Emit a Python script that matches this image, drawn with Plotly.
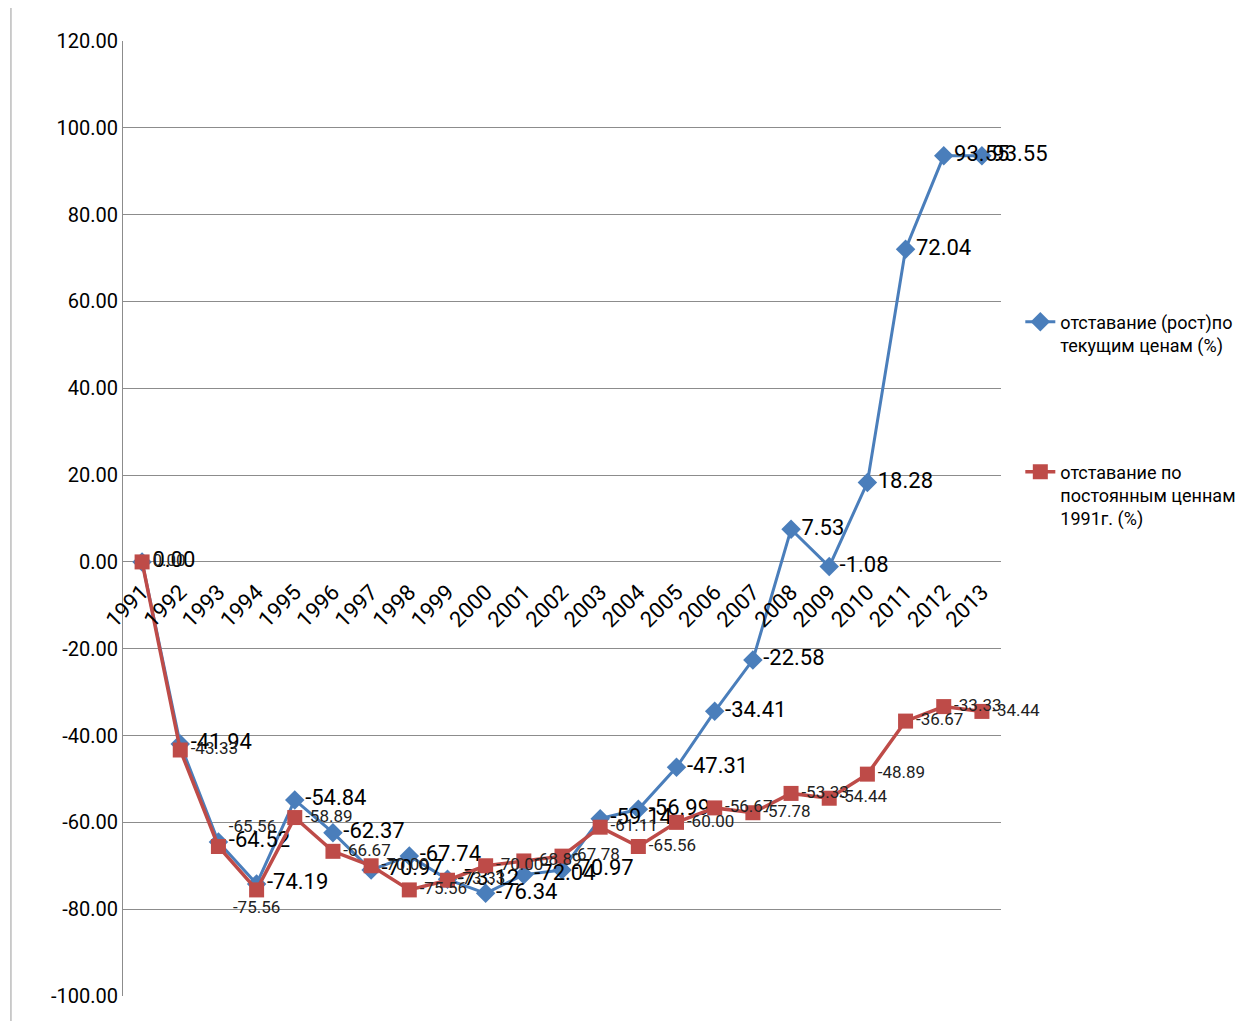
import plotly.graph_objects as go

years = ["1991", "1992", "1993", "1994", "1995", "1996", "1997", "1998", "1999", "2000",
         "2001", "2002", "2003", "2004", "2005", "2006", "2007", "2008", "2009", "2010",
         "2011", "2012", "2013"]

current_prices = [0.00, -41.94, -64.52, -74.19, -54.84, -62.37, -70.97, -67.74, -73.12, -76.34,
                  -72.04, -70.97, -59.14, -56.99, -47.31, -34.41, -22.58, 7.53, -1.08, 18.28,
                  72.04, 93.55, 93.55]

constant_prices = [0.00, -43.33, -65.56, -75.56, -58.89, -66.67, -70.00, -75.56, -73.33, -70.00,
                   -68.89, -67.78, -61.11, -65.56, -60.00, -56.67, -57.78, -53.33, -54.44, -48.89,
                   -36.67, -33.33, -34.44]

y_ticks = [-100, -80, -60, -40, -20, 0, 20, 40, 60, 80, 100, 120]
y_tick_labels = ["-100.00", "-80.00", "-60.00", "-40.00", "-20.00", "0.00",
                 "20.00", "40.00", "60.00", "80.00", "100.00", "120.00"]

name_current = "отставание (рост)по<br>текущим ценам (%)"
name_constant = "отставание по<br>постоянным ценнам<br>1991г. (%)"

blue = "#4A7EBB"
red = "#BE4B48"
fam = "Roboto, Liberation Sans, sans-serif"

def f(size, color="black"):
    return dict(family=fam, size=size, color=color)

red_pos = ["middle right"] * len(years)
red_pos[2] = "top right"
red_pos[3] = "bottom center"

fig = go.Figure()
fig.add_trace(go.Scatter(
    x=years, y=current_prices, name=name_current, legendgroup="a",
    mode="lines+markers+text",
    line=dict(color=blue, width=3),
    marker=dict(symbol="diamond", size=15, color=blue),
    text=[f"{v:.2f}" for v in current_prices], textposition="middle right",
    textfont=f(22),
    cliponaxis=False,
))
fig.add_trace(go.Scatter(
    x=years, y=constant_prices, name=name_constant, legendgroup="b",
    mode="lines+markers+text",
    line=dict(color=red, width=3.5),
    marker=dict(symbol="square", size=15, color=red),
    text=[f"{v:.2f}" for v in constant_prices], textposition=red_pos,
    textfont=f(17, "#222222"),
    cliponaxis=False,
))

ymin, ymax = -100, 120
fig.update_layout(
    width=1245, height=1021,
    margin=dict(l=115, r=252, t=33, b=33),
    paper_bgcolor="white", plot_bgcolor="white",
    font=f(18),
    showlegend=True,
    legend=dict(x=1.022, y=0.725, xanchor="left", yanchor="top",
                font=f(18),
                traceorder="grouped", tracegroupgap=100, valign="top",
                itemwidth=30, bgcolor="rgba(0,0,0,0)"),
    xaxis=dict(type="category", range=[-0.5, len(years) - 0.5],
               anchor="free", position=(0 - ymin) / (ymax - ymin),
               showgrid=False, showline=False, zeroline=False, ticks="",
               tickangle=-45, tickfont=f(22), ticklabelstandoff=12),
    yaxis=dict(range=[ymin, ymax], tickvals=y_ticks, ticktext=y_tick_labels,
               showgrid=True, gridcolor="#8C8C8C", gridwidth=1,
               zeroline=False, showline=True, linecolor="#8C8C8C", linewidth=1,
               ticks="", tickfont=f(20)),
)

fig.add_shape(type="line", xref="paper", yref="paper",
              x0=-0.1276, x1=-0.1276, y0=-0.03, y1=1.05,
              line=dict(color="#9A9A9A", width=1))

fig.write_html("out.html")
